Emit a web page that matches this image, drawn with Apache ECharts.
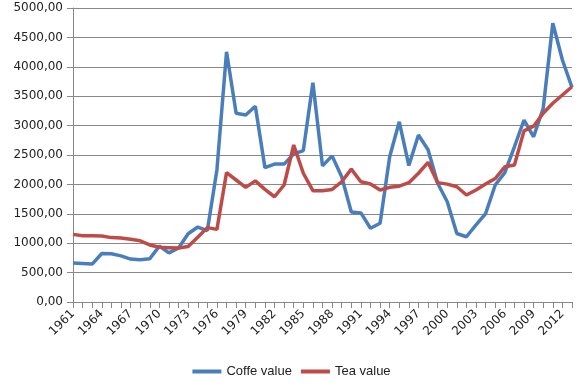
<!DOCTYPE html>
<html><head><meta charset="utf-8">
<script src="https://cdn.jsdelivr.net/npm/echarts@6/dist/echarts.min.js"></script>
<style>html,body{margin:0;padding:0;background:#fff}#c{width:583px;height:389px}</style>
</head><body><div id="c"></div>
<script>
const years = [];
for (let y = 1961; y <= 2013; y++) years.push(String(y));
const coffeeValue = [665,655,645,825,820,785,730,720,735,950,835,920,1160,1275,1215,2250,4255,3210,3180,3330,2285,2345,2345,2520,2575,3730,2315,2485,2130,1530,1515,1255,1340,2470,3065,2320,2840,2590,2020,1705,1165,1110,1310,1505,1990,2200,2640,3095,2810,3295,4740,4115,3650];
const teaValue = [1150,1128,1128,1122,1095,1088,1066,1040,970,930,924,918,945,1100,1265,1235,2200,2075,1950,2060,1915,1790,1990,2670,2190,1893,1893,1915,2045,2260,2046,2007,1905,1950,1970,2030,2190,2375,2030,2005,1960,1820,1905,2005,2100,2300,2330,2910,2990,3210,3380,3520,3660];
const yTicks = {min: 0, max: 5000, step: 500};

const chart = echarts.init(document.getElementById('c'));
chart.setOption({
  animation: false,
  grid: {left: 73, right: 11, top: 8, bottom: 87, containLabel: false},
  legend: {
    bottom: 6, left: 'center', itemGap: 9, itemWidth: 29, itemHeight: 4,
    icon: 'rect',
    textStyle: {fontFamily: 'Liberation Sans', fontSize: 13, color: '#222'},
    data: ['Coffe value', 'Tea value']
  },
  xAxis: {
    type: 'category', data: years, boundaryGap: false,
    axisLine: {lineStyle: {color: '#888', width: 1}},
    axisTick: {show: true, interval: 0, length: 6, lineStyle: {color: '#888'}},
    axisLabel: {interval: 2, rotate: 45, fontFamily: 'DejaVu Sans', fontSize: 12, color: '#222', margin: 10},
    splitLine: {show: false}
  },
  yAxis: {
    type: 'value', min: yTicks.min, max: yTicks.max, interval: yTicks.step,
    axisLine: {show: true, lineStyle: {color: '#888', width: 1}},
    axisTick: {show: true, length: 6, lineStyle: {color: '#888'}},
    axisLabel: {fontFamily: 'DejaVu Sans', fontSize: 12, color: '#222', margin: 10,
      formatter: v => v.toFixed(2).replace('.', ',')},
    splitLine: {lineStyle: {color: '#888', width: 1}}
  },
  series: [
    {name: 'Coffe value', type: 'line', data: coffeeValue, showSymbol: false, symbol: 'none',
     lineStyle: {color: '#4A7EBB', width: 3.5}, itemStyle: {color: '#4A7EBB'}},
    {name: 'Tea value', type: 'line', data: teaValue, showSymbol: false, symbol: 'none',
     lineStyle: {color: '#BE4B48', width: 3.5}, itemStyle: {color: '#BE4B48'}}
  ]
});
</script></body></html>
